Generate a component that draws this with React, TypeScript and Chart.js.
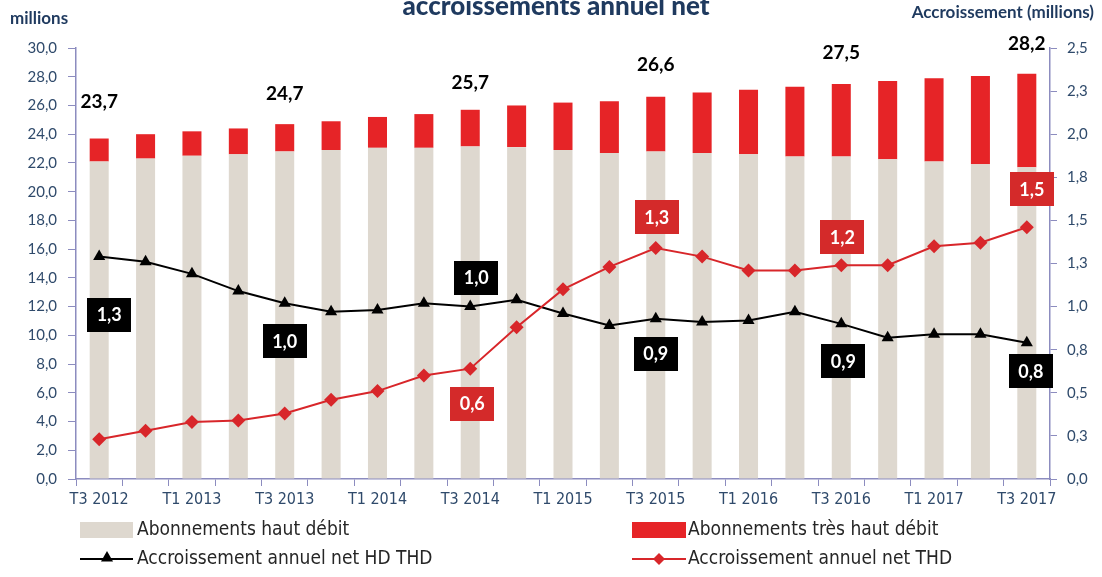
import { useEffect, useRef } from 'react';
import { Chart, registerables } from 'chart.js';
Chart.register(...registerables);

const categories = ['T3 2012','T4 2012','T1 2013','T2 2013','T3 2013','T4 2013','T1 2014','T2 2014','T3 2014','T4 2014','T1 2015','T2 2015','T3 2015','T4 2015','T1 2016','T2 2016','T3 2016','T4 2016','T1 2017','T2 2017','T3 2017'];
const hautDebit = [22.1,22.3,22.5,22.6,22.8,22.9,23.05,23.05,23.15,23.1,22.9,22.7,22.8,22.7,22.6,22.45,22.45,22.25,22.1,21.9,21.7];
const tresHautDebit = [1.6,1.7,1.7,1.8,1.9,2.0,2.15,2.35,2.55,2.9,3.3,3.6,3.8,4.2,4.5,4.85,5.05,5.45,5.8,6.15,6.5];
const accroissementHdThd = [1.29,1.26,1.19,1.09,1.02,0.97,0.98,1.02,1.0,1.04,0.96,0.89,0.93,0.91,0.92,0.97,0.9,0.82,0.84,0.84,0.79];
const accroissementThd = [0.23,0.28,0.33,0.34,0.38,0.46,0.51,0.6,0.64,0.88,1.1,1.23,1.34,1.29,1.21,1.21,1.24,1.24,1.35,1.37,1.46];

const totalLabelIdx = [0,4,8,12,16,20];
const hdThdLabelIdx = [0,4,8,12,16,20];
const thdLabelIdx = [8,12,16,20];

// label placement (pixel offsets from the mark)
const totalLabelDy = [-37,-30,-27,-32,-31,-30];
const hdThdBoxOffsets = [[10,58],[0,38],[6,-29],[0,35],[2,37],[4,28]];
const thdBoxOffsets = [[2,35],[1,-31],[1,-28],[5,-38]];

const AXIS = '#8c8cbf';
const TICK = '#2f4a6b';
const BEIGE = '#ded8cf';
const RED = '#e62427';
const RED_LINE = '#d8262a';
const NAVY = '#1f3a5f';

const fmt1 = (v: number) => (Math.round(v * 10 + 1e-6) / 10).toFixed(1).replace('.', ',');

function drawMarker(ctx: CanvasRenderingContext2D, style: string, x: number, y: number, r: number, color: string) {
  ctx.save();
  ctx.fillStyle = color;
  ctx.beginPath();
  if (style === 'triangle') {
    ctx.moveTo(x, y - r);
    ctx.lineTo(x + r * 0.866, y + r * 0.5);
    ctx.lineTo(x - r * 0.866, y + r * 0.5);
  } else {
    ctx.moveTo(x, y - r);
    ctx.lineTo(x + r, y);
    ctx.lineTo(x, y + r);
    ctx.lineTo(x - r, y);
  }
  ctx.closePath();
  ctx.fill();
  ctx.restore();
}

const labelsPlugin = {
  id: 'labelsPlugin',
  afterDatasetsDraw(chart: any) {
    const ctx: CanvasRenderingContext2D = chart.ctx;
    ctx.save();
    const redMeta = chart.getDatasetMeta(1);
    ctx.font = 'bold 19px Lato';
    ctx.fillStyle = '#000';
    ctx.textAlign = 'center';
    ctx.textBaseline = 'middle';
    totalLabelIdx.forEach((i, k) => {
      const el = redMeta.data[i];
      const total = hautDebit[i] + tresHautDebit[i];
      ctx.fillText(fmt1(total), el.x, el.y + totalLabelDy[k]);
    });
    const box = (x: number, y: number, text: string, bg: string) => {
      const w = 44, h = 34;
      ctx.fillStyle = bg;
      ctx.fillRect(Math.round(x - w / 2), Math.round(y - h / 2), w, h);
      ctx.fillStyle = '#fff';
      ctx.font = 'bold 18px Lato';
      ctx.fillText(text, x, y + 1);
    };
    const blackMeta = chart.getDatasetMeta(2);
    hdThdLabelIdx.forEach((i, k) => {
      const el = blackMeta.data[i];
      box(el.x + hdThdBoxOffsets[k][0], el.y + hdThdBoxOffsets[k][1], fmt1(accroissementHdThd[i]), '#000');
    });
    const rMeta = chart.getDatasetMeta(3);
    thdLabelIdx.forEach((i, k) => {
      const el = rMeta.data[i];
      box(el.x + thdBoxOffsets[k][0], el.y + thdBoxOffsets[k][1], fmt1(accroissementThd[i]), '#d42a2a');
    });
    ctx.restore();
  },
  afterDraw(chart: any) {
    const ctx: CanvasRenderingContext2D = chart.ctx;
    ctx.save();
    ctx.fillStyle = NAVY;
    ctx.textAlign = 'center';
    ctx.textBaseline = 'alphabetic';
    ctx.font = '900 26px Lato';
    ctx.fillText('accroissements annuel net', 556, 15);
    ctx.font = 'bold 17px Lato';
    ctx.textAlign = 'left';
    ctx.textBaseline = 'middle';
    ctx.fillText('millions', 10, 19);
    ctx.textAlign = 'right';
    ctx.fillText('Accroissement (millions)', 1094, 13);
    // legend
    ctx.textAlign = 'left';
    ctx.textBaseline = 'middle';
    ctx.font = '19px "Liberation Sans Narrow", "DejaVu Sans Condensed", sans-serif';
    const row1 = 530, row2 = 559;
    ctx.fillStyle = BEIGE;
    ctx.fillRect(80, row1 - 8, 53, 16);
    ctx.fillStyle = RED;
    ctx.fillRect(632, row1 - 8, 54, 16);
    ctx.fillStyle = '#262626';
    ctx.fillText('Abonnements haut débit', 137, row1);
    ctx.fillText('Abonnements très haut débit', 688, row1);
    ctx.strokeStyle = '#000';
    ctx.lineWidth = 2;
    ctx.beginPath(); ctx.moveTo(80, row2); ctx.lineTo(133, row2); ctx.stroke();
    drawMarker(ctx, 'triangle', 107, row2 - 1, 7, '#000');
    ctx.strokeStyle = RED_LINE;
    ctx.beginPath(); ctx.moveTo(632, row2); ctx.lineTo(686, row2); ctx.stroke();
    drawMarker(ctx, 'diamond', 659, row2, 6, RED_LINE);
    ctx.fillStyle = '#262626';
    ctx.fillText('Accroissement annuel net HD THD', 137, row2);
    ctx.fillText('Accroissement annuel net THD', 688, row2);
    ctx.restore();
  },
};

export default function App() {
  const ref = useRef<HTMLCanvasElement | null>(null);
  useEffect(() => {
    if (!ref.current) return;
    const tickFont = { family: 'Lato', size: 15 };
    const chart = new Chart(ref.current, {
      type: 'bar',
      data: {
        labels: categories,
        datasets: [
          { type: 'bar', label: 'Abonnements haut débit', data: hautDebit, backgroundColor: BEIGE, yAxisID: 'y', order: 2, barPercentage: 0.41, categoryPercentage: 1 },
          { type: 'bar', label: 'Abonnements très haut débit', data: tresHautDebit, backgroundColor: RED, yAxisID: 'y', order: 2, barPercentage: 0.41, categoryPercentage: 1 },
          { type: 'line', label: 'Accroissement annuel net HD THD', data: accroissementHdThd, borderColor: '#000', backgroundColor: '#000', borderWidth: 2, pointStyle: 'triangle', pointRadius: 7, pointBorderWidth: 0, yAxisID: 'y1', order: 1, tension: 0 },
          { type: 'line', label: 'Accroissement annuel net THD', data: accroissementThd, borderColor: RED_LINE, backgroundColor: RED_LINE, borderWidth: 2, pointStyle: 'rectRot', pointRadius: 7, pointBorderWidth: 0, yAxisID: 'y1', order: 0, tension: 0 },
        ],
      } as any,
      options: {
        responsive: false,
        animation: false,
        layout: { padding: { top: 48, left: 0, right: 0, bottom: 0 } },
        plugins: { legend: { display: false }, tooltip: { enabled: false }, title: { display: false } },
        scales: {
          x: {
            stacked: true,
            grid: { display: true, drawOnChartArea: false, drawTicks: true, tickLength: 7, color: AXIS, offset: true },
            border: { display: true, color: AXIS, width: 1.5 },
            ticks: {
              autoSkip: false, maxRotation: 0, minRotation: 0, padding: 4, color: TICK,
              font: { family: '"Liberation Sans Narrow", "DejaVu Sans Condensed", sans-serif', size: 16 },
              callback: (_v: any, i: number) => (i % 2 === 0 ? categories[i] : ''),
            },
            afterFit: (s: any) => { s.height = 98; },
          },
          y: {
            position: 'left', stacked: true, min: 0, max: 30,
            grid: { drawOnChartArea: false, drawTicks: true, tickLength: 8, color: AXIS },
            border: { display: true, color: AXIS, width: 1.5 },
            ticks: { stepSize: 2, padding: 11, color: TICK, font: tickFont, callback: (v: any) => Number(v).toFixed(1).replace('.', ',') },
            afterFit: (s: any) => { s.width = 76; },
          },
          y1: {
            position: 'right', min: 0, max: 2.5,
            grid: { drawOnChartArea: false, drawTicks: true, tickLength: 7, color: AXIS },
            border: { display: true, color: AXIS, width: 1.5 },
            ticks: { stepSize: 0.25, padding: 10, color: TICK, font: tickFont, callback: (v: any) => fmt1(Number(v)) },
            afterFit: (s: any) => { s.width = 52; },
          },
        },
      } as any,
      plugins: [labelsPlugin],
    });
    return () => chart.destroy();
  }, []);
  return (
    <div style={{ position: 'absolute', left: 0, top: 0, width: 1102, height: 577, background: '#fff' }}>
      <canvas ref={ref} width={1102} height={577} style={{ display: 'block' }} />
    </div>
  );
}
